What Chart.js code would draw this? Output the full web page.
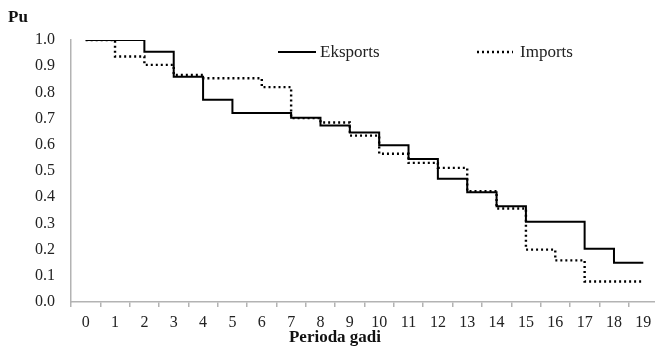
<!DOCTYPE html>
<html>
<head>
<meta charset="utf-8">
<script src="https://cdn.jsdelivr.net/npm/chart.js@4.4.1/dist/chart.umd.min.js"></script>
<style>
html,body{margin:0;padding:0;background:#fff;overflow:hidden;}
#wrap{position:absolute;left:0;top:0;width:659px;height:349px;}
</style>
</head>
<body>
<div id="wrap"><canvas id="c" width="659" height="349"></canvas></div>
<script>
const categories = ['0','1','2','3','4','5','6','7','8','9','10','11','12','13','14','15','16','17','18','19'];
const exportsVals = [1.0,1.0,0.955,0.86,0.772,0.721,0.721,0.703,0.674,0.647,0.598,0.546,0.47,0.419,0.365,0.306,0.306,0.203,0.15,0.15];
const importsVals = [1.0,0.937,0.905,0.867,0.854,0.854,0.82,0.702,0.685,0.635,0.566,0.531,0.512,0.423,0.357,0.2,0.159,0.078,0.078,0.078];
const seriesNames = ['Eksports','Imports'];
const yTitle = 'Pu';
const xTitle = 'Perioda gadi';

const SERIF = '"Liberation Serif", "Times New Roman", serif';
const axisColor = '#b3b3b3';
const textColor = '#222';

const overlay = {
  id: 'overlay',
  afterDraw(chart) {
    const ctx = chart.ctx;
    ctx.save();
    ctx.fillStyle = '#111';
    ctx.font = 'bold 17px ' + SERIF;
    ctx.textBaseline = 'middle';
    ctx.textAlign = 'left';
    ctx.fillText(yTitle, 8, 18);
    ctx.textAlign = 'center';
    ctx.fillText(xTitle, 335, 338);
    // legend
    const items = [
      {x0: 278, x1: 316, tx: 320, ds: chart.data.datasets[0]},
      {x0: 477, x1: 513, tx: 520, ds: chart.data.datasets[1]}
    ];
    const ly = 52;
    items.forEach(it => {
      ctx.beginPath();
      ctx.strokeStyle = it.ds.borderColor;
      ctx.lineWidth = it.ds.borderWidth;
      ctx.setLineDash(it.ds.borderDash || []);
      ctx.moveTo(it.x0, ly);
      ctx.lineTo(it.x1, ly);
      ctx.stroke();
      ctx.setLineDash([]);
      ctx.fillStyle = textColor;
      ctx.font = '17px ' + SERIF;
      ctx.textAlign = 'left';
      ctx.fillText(it.ds.label, it.tx, ly + 1);
    });
    ctx.restore();
  }
};

new Chart(document.getElementById('c'), {
  type: 'line',
  data: {
    labels: categories,
    datasets: [
      {label: seriesNames[0], data: exportsVals, borderColor: '#000', borderWidth: 2, stepped: 'before', pointRadius: 0, fill: false},
      {label: seriesNames[1], data: importsVals, borderColor: '#000', borderWidth: 2.4, borderDash: [2, 3], stepped: 'before', pointRadius: 0, fill: false}
    ]
  },
  options: {
    responsive: false,
    animation: false,
    devicePixelRatio: 1,
    layout: {padding: {top: 40, left: 0, right: 1, bottom: 0}},
    plugins: {legend: {display: false}, tooltip: {enabled: false}, title: {display: false}},
    scales: {
      x: {
        type: 'category',
        offset: true,
        grid: {offset: true, drawOnChartArea: false, drawTicks: true, tickLength: 5, color: axisColor, lineWidth: 1.5},
        border: {color: axisColor, width: 1.5},
        ticks: {color: textColor, font: {family: SERIF, size: 16}, padding: 6, maxRotation: 0, autoSkip: false},
        afterFit(s) { s.height = 47; }
      },
      y: {
        min: 0, max: 1,
        grid: {drawOnChartArea: false, drawTicks: false},
        border: {color: axisColor, width: 1.5},
        ticks: {stepSize: 0.1, color: textColor, font: {family: SERIF, size: 16}, padding: 16,
          callback: v => Number(v).toFixed(1)},
        afterFit(s) { s.width = 71; }
      }
    }
  },
  plugins: [overlay]
});
</script>
</body>
</html>
